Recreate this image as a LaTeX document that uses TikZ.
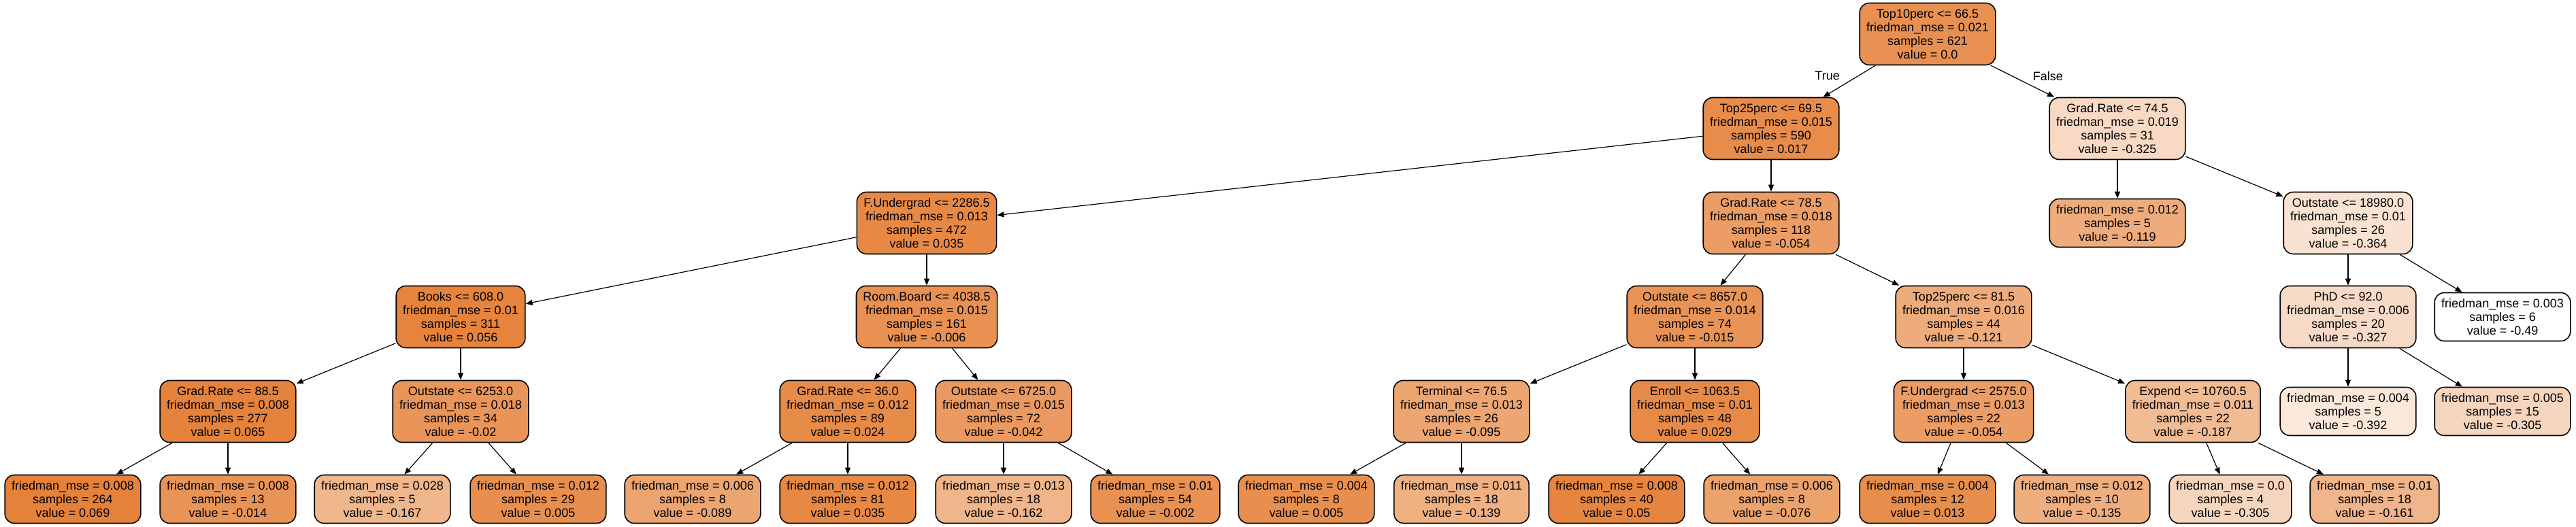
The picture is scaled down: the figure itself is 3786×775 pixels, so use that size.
\documentclass[tikz,border=0pt]{standalone}
\usepackage{fontspec}
\setmainfont{Liberation Sans}
\usetikzlibrary{arrows.meta}
\definecolor{treeorange}{RGB}{229,129,57}

\begin{document}
\begin{tikzpicture}[x=0.5pt,y=-0.5pt,
	split/.style={draw, line width=0.8pt, rounded corners=7pt, align=center, font=\fontsize{9}{10}\selectfont, inner xsep=5pt, inner ysep=0pt, minimum height=45.5pt},
	leaf/.style={split, minimum height=35.5pt},
	edge/.style={-{Triangle[length=5pt,width=4pt]}, line width=0.6pt},
	elabel/.style={font=\fontsize{9}{10}\selectfont}]
	\useasboundingbox (0,0) rectangle (3786,775);

	\node[split, fill=treeorange!88] (root) at (2833,50) {Top10perc <= 66.5\\friedman\_mse = 0.021\\samples = 621\\value = 0.0};

	\node[split, fill=treeorange!91] (t25a) at (2603,189) {Top25perc <= 69.5\\friedman\_mse = 0.015\\samples = 590\\value = 0.017};
	\node[split, fill=treeorange!30] (gr74) at (3112,189) {Grad.Rate <= 74.5\\friedman\_mse = 0.019\\samples = 31\\value = -0.325};

	\node[split, fill=treeorange!94] (fug) at (1362,328) {F.Undergrad <= 2286.5\\friedman\_mse = 0.013\\samples = 472\\value = 0.035};
	\node[split, fill=treeorange!78] (gr78) at (2603,328) {Grad.Rate <= 78.5\\friedman\_mse = 0.018\\samples = 118\\value = -0.054};
	\node[leaf, fill=treeorange!66] (lfa) at (3112,328) {friedman\_mse = 0.012\\samples = 5\\value = -0.119};
	\node[split, fill=treeorange!23] (out18980) at (3451,328) {Outstate <= 18980.0\\friedman\_mse = 0.01\\samples = 26\\value = -0.364};

	\node[split, fill=treeorange!98] (books) at (677,466) {Books <= 608.0\\friedman\_mse = 0.01\\samples = 311\\value = 0.056};
	\node[split, fill=treeorange!87] (room) at (1362,466) {Room.Board <= 4038.5\\friedman\_mse = 0.015\\samples = 161\\value = -0.006};
	\node[split, fill=treeorange!85] (out8657) at (2491,466) {Outstate <= 8657.0\\friedman\_mse = 0.014\\samples = 74\\value = -0.015};
	\node[split, fill=treeorange!66] (t25b) at (2886,466) {Top25perc <= 81.5\\friedman\_mse = 0.016\\samples = 44\\value = -0.121};
	\node[split, fill=treeorange!29] (phd) at (3451,466) {PhD <= 92.0\\friedman\_mse = 0.006\\samples = 20\\value = -0.327};
	\node[leaf, fill=white] (lfb) at (3678,466) {friedman\_mse = 0.003\\samples = 6\\value = -0.49};

	\node[split, fill=treeorange!99] (gr88) at (335,605) {Grad.Rate <= 88.5\\friedman\_mse = 0.008\\samples = 277\\value = 0.065};
	\node[split, fill=treeorange!84] (out6253) at (677,605) {Outstate <= 6253.0\\friedman\_mse = 0.018\\samples = 34\\value = -0.02};
	\node[split, fill=treeorange!92] (gr36) at (1246,605) {Grad.Rate <= 36.0\\friedman\_mse = 0.012\\samples = 89\\value = 0.024};
	\node[split, fill=treeorange!80] (out6725) at (1475,605) {Outstate <= 6725.0\\friedman\_mse = 0.015\\samples = 72\\value = -0.042};
	\node[split, fill=treeorange!71] (term) at (2148,605) {Terminal <= 76.5\\friedman\_mse = 0.013\\samples = 26\\value = -0.095};
	\node[split, fill=treeorange!93] (enroll) at (2491,605) {Enroll <= 1063.5\\friedman\_mse = 0.01\\samples = 48\\value = 0.029};
	\node[split, fill=treeorange!78] (fug2575) at (2886,605) {F.Undergrad <= 2575.0\\friedman\_mse = 0.013\\samples = 22\\value = -0.054};
	\node[split, fill=treeorange!54] (expend) at (3223,605) {Expend <= 10760.5\\friedman\_mse = 0.011\\samples = 22\\value = -0.187};
	\node[leaf, fill=treeorange!18] (lfc) at (3451,605) {friedman\_mse = 0.004\\samples = 5\\value = -0.392};
	\node[leaf, fill=treeorange!33] (lfd) at (3678,605) {friedman\_mse = 0.005\\samples = 15\\value = -0.305};

	\node[leaf, fill=treeorange] (l1) at (107,734) {friedman\_mse = 0.008\\samples = 264\\value = 0.069};
	\node[leaf, fill=treeorange!85] (l2) at (335,734) {friedman\_mse = 0.008\\samples = 13\\value = -0.014};
	\node[leaf, fill=treeorange!58] (l3) at (562,734) {friedman\_mse = 0.028\\samples = 5\\value = -0.167};
	\node[leaf, fill=treeorange!89] (l4) at (791,734) {friedman\_mse = 0.012\\samples = 29\\value = 0.005};
	\node[leaf, fill=treeorange!72] (l5) at (1018,734) {friedman\_mse = 0.006\\samples = 8\\value = -0.089};
	\node[leaf, fill=treeorange!94] (l6) at (1246,734) {friedman\_mse = 0.012\\samples = 81\\value = 0.035};
	\node[leaf, fill=treeorange!59] (l7) at (1475,734) {friedman\_mse = 0.013\\samples = 18\\value = -0.162};
	\node[leaf, fill=treeorange!87] (l8) at (1698,734) {friedman\_mse = 0.01\\samples = 54\\value = -0.002};
	\node[leaf, fill=treeorange!89] (l9) at (1920,734) {friedman\_mse = 0.004\\samples = 8\\value = 0.005};
	\node[leaf, fill=treeorange!63] (l10) at (2148,734) {friedman\_mse = 0.011\\samples = 18\\value = -0.139};
	\node[leaf, fill=treeorange!97] (l11) at (2376,734) {friedman\_mse = 0.008\\samples = 40\\value = 0.05};
	\node[leaf, fill=treeorange!74] (l12) at (2604,734) {friedman\_mse = 0.006\\samples = 8\\value = -0.076};
	\node[leaf, fill=treeorange!90] (l13) at (2833,734) {friedman\_mse = 0.004\\samples = 12\\value = 0.013};
	\node[leaf, fill=treeorange!64] (l14) at (3060,734) {friedman\_mse = 0.012\\samples = 10\\value = -0.135};
	\node[leaf, fill=treeorange!33] (l15) at (3278,734) {friedman\_mse = 0.0\\samples = 4\\value = -0.305};
	\node[leaf, fill=treeorange!59] (l16) at (3490,734) {friedman\_mse = 0.01\\samples = 18\\value = -0.161};

	\draw[edge] (root) -- node[elabel, pos=0.33, left=10pt] (true) {True} (t25a);
	\draw[edge] (root) -- node[elabel, pos=0.33, right=12pt] (false) {False} (gr74);

	\draw[edge] (t25a) -- (fug); \draw[edge] (t25a) -- (gr78);
	\draw[edge] (gr74) -- (lfa); \draw[edge] (gr74) -- (out18980);
	\draw[edge] (fug) -- (books); \draw[edge] (fug) -- (room);
	\draw[edge] (gr78) -- (out8657); \draw[edge] (gr78) -- (t25b);
	\draw[edge] (out18980) -- (phd); \draw[edge] (out18980) -- (lfb);
	\draw[edge] (books) -- (gr88); \draw[edge] (books) -- (out6253);
	\draw[edge] (room) -- (gr36); \draw[edge] (room) -- (out6725);
	\draw[edge] (out8657) -- (term); \draw[edge] (out8657) -- (enroll);
	\draw[edge] (t25b) -- (fug2575); \draw[edge] (t25b) -- (expend);
	\draw[edge] (phd) -- (lfc); \draw[edge] (phd) -- (lfd);
	\draw[edge] (gr88) -- (l1); \draw[edge] (gr88) -- (l2);
	\draw[edge] (out6253) -- (l3); \draw[edge] (out6253) -- (l4);
	\draw[edge] (gr36) -- (l5); \draw[edge] (gr36) -- (l6);
	\draw[edge] (out6725) -- (l7); \draw[edge] (out6725) -- (l8);
	\draw[edge] (term) -- (l9); \draw[edge] (term) -- (l10);
	\draw[edge] (enroll) -- (l11); \draw[edge] (enroll) -- (l12);
	\draw[edge] (fug2575) -- (l13); \draw[edge] (fug2575) -- (l14);
	\draw[edge] (expend) -- (l15); \draw[edge] (expend) -- (l16);
\end{tikzpicture}
\end{document}
